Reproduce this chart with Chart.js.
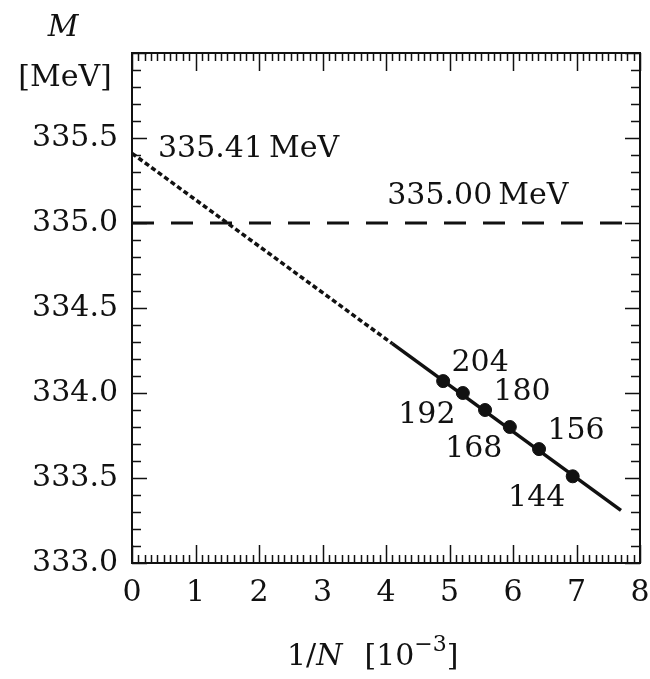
<!DOCTYPE html>
<html>
<head>
<meta charset="utf-8">
<script src="https://cdn.jsdelivr.net/npm/chart.js@4"></script>
<style>
  html, body { margin: 0; padding: 0; background: #fff; }
  #wrap { width: 650px; height: 679px; position: relative; }
</style>
</head>
<body>
<div id="wrap"><canvas id="myChart"></canvas></div>
<script>
'use strict';

// lattice sizes N and the measured points
const sizes = [204, 192, 180, 168, 156, 144];
const invN = [4.90, 5.21, 5.56, 5.95, 6.41, 6.94];          // 1/N [10^-3]
const masses = [334.07, 334.00, 333.90, 333.80, 333.67, 333.51]; // M [MeV]

// linear fit: dotted extrapolation, solid over the data
const fitX = [0, 4.1, 7.7];
const fitM = [335.41, 334.29, 333.31];

// reference value
const refX = [0, 8];
const refM = [335.00, 335.00];

// axes
const xTicks = [0, 1, 2, 3, 4, 5, 6, 7, 8];
const yTicks = [333.0, 333.5, 334.0, 334.5, 335.0, 335.5];

const FONT = '"DejaVu Serif", serif';
const SIZE = 30;
const INK = '#111';

{
    const pts = (xs, ys) => xs.map((x, i) => ({ x: x, y: ys[i] }));

    /**
     * 枠・内向きの目盛り・注記
     */
    const decor = {
        id: 'decor',
        afterDraw(chart) {
            const { ctx, chartArea: a, scales: { x, y } } = chart;
            ctx.save();
            ctx.strokeStyle = INK;
            ctx.fillStyle = INK;

            // 目盛り (0.1刻み)
            ctx.lineWidth = 1.5;
            ctx.beginPath();
            for (let i = 0; i <= 80; i++) {
                const px = Math.round(x.getPixelForValue(i / 10)) + 0.5;
                const len = i % 10 === 0 ? 18 : 8;
                ctx.moveTo(px, a.bottom); ctx.lineTo(px, a.bottom - len);
                ctx.moveTo(px, a.top); ctx.lineTo(px, a.top + len);
            }
            for (let i = 0; i <= 30; i++) {
                const py = Math.round(y.getPixelForValue(333 + i / 10)) + 0.5;
                const len = i % 5 === 0 ? 15 : 9;
                ctx.moveTo(a.left, py); ctx.lineTo(a.left + len, py);
                ctx.moveTo(a.right, py); ctx.lineTo(a.right - len, py);
            }
            ctx.stroke();

            // 枠
            ctx.lineWidth = 2;
            ctx.strokeRect(a.left, a.top, a.right - a.left, a.bottom - a.top);

            // 軸ラベル
            ctx.textBaseline = 'middle';
            ctx.textAlign = 'center';
            ctx.font = 'italic ' + SIZE + 'px ' + FONT;
            ctx.fillText('M', 63, 28);
            ctx.font = SIZE + 'px ' + FONT;
            ctx.fillText('[MeV]', 65, 78);

            // 1/N [10^-3]
            let cx = 287;
            const cy = 657;
            ctx.textAlign = 'left';
            const part = (t, f, dy) => {
                ctx.font = f;
                ctx.fillText(t, cx, cy + (dy || 0));
                cx += ctx.measureText(t).width;
            };
            part('1/', SIZE + 'px ' + FONT);
            part('N', 'italic ' + SIZE + 'px ' + FONT);
            cx += 22;
            part('[10', SIZE + 'px ' + FONT);
            part('\u22123', '22px ' + FONT, -12);
            part(']', SIZE + 'px ' + FONT);

            // 値の注記
            ctx.font = SIZE + 'px ' + FONT;
            ctx.fillText('335.41\u2009MeV', x.getPixelForValue(0.41), y.getPixelForValue(335.435));
            ctx.fillText('335.00\u2009MeV', x.getPixelForValue(4.02), y.getPixelForValue(335.16));

            // 点のラベル (交互に右上・左下)
            ctx.textAlign = 'center';
            sizes.forEach((n, i) => {
                const px = x.getPixelForValue(invN[i]);
                const py = y.getPixelForValue(masses[i]);
                const dx = i % 2 === 0 ? 37 : -36;
                const dy = i % 2 === 0 ? -18 : 22;
                ctx.fillText(String(n), px + dx, py + dy);
            });
            ctx.restore();
        }
    };

    const ctx = document.getElementById('myChart');
    new Chart(ctx, {
        type: 'scatter',
        data: {
            datasets: [
                {
                    data: pts(invN, masses),
                    backgroundColor: INK,
                    borderColor: INK,
                    pointRadius: 6.5,
                    showLine: false
                },
                {
                    data: pts(fitX.slice(1), fitM.slice(1)),
                    showLine: true,
                    borderColor: INK,
                    borderWidth: 3.5,
                    pointRadius: 0
                },
                {
                    data: pts(fitX.slice(0, 2), fitM.slice(0, 2)),
                    showLine: true,
                    borderColor: INK,
                    borderWidth: 3.5,
                    borderDash: [5, 3],
                    pointRadius: 0
                },
                {
                    data: pts(refX, refM),
                    showLine: true,
                    borderColor: INK,
                    borderWidth: 3,
                    borderDash: [22, 17],
                    pointRadius: 0
                }
            ]
        },
        options: {
            responsive: true,
            maintainAspectRatio: false,
            animation: false,
            devicePixelRatio: 1,
            layout: { padding: { top: 53, right: 10, left: 0, bottom: 0 } },
            plugins: {
                legend: { display: false },
                tooltip: { enabled: false }
            },
            scales: {
                x: {
                    type: 'linear',
                    min: 0,
                    max: 8,
                    afterBuildTicks: s => { s.ticks = xTicks.map(v => ({ value: v })); },
                    afterFit: s => { s.height = 116; s.paddingLeft = 0; s.paddingRight = 0; },
                    grid: { display: false, drawTicks: false },
                    border: { display: false },
                    ticks: {
                        padding: 12,
                        color: INK,
                        font: { family: FONT, size: SIZE },
                        maxRotation: 0,
                        callback: v => String(v)
                    }
                },
                y: {
                    type: 'linear',
                    min: 333,
                    max: 336,
                    afterBuildTicks: s => { s.ticks = yTicks.map(v => ({ value: v })); },
                    afterFit: s => { s.width = 132; s.paddingTop = 0; s.paddingBottom = 0; },
                    grid: { display: false, drawTicks: false },
                    border: { display: false },
                    ticks: {
                        padding: 14,
                        color: INK,
                        font: { family: FONT, size: SIZE },
                        callback: v => v.toFixed(1)
                    }
                }
            }
        },
        plugins: [decor]
    });
}
</script>
</body>
</html>
